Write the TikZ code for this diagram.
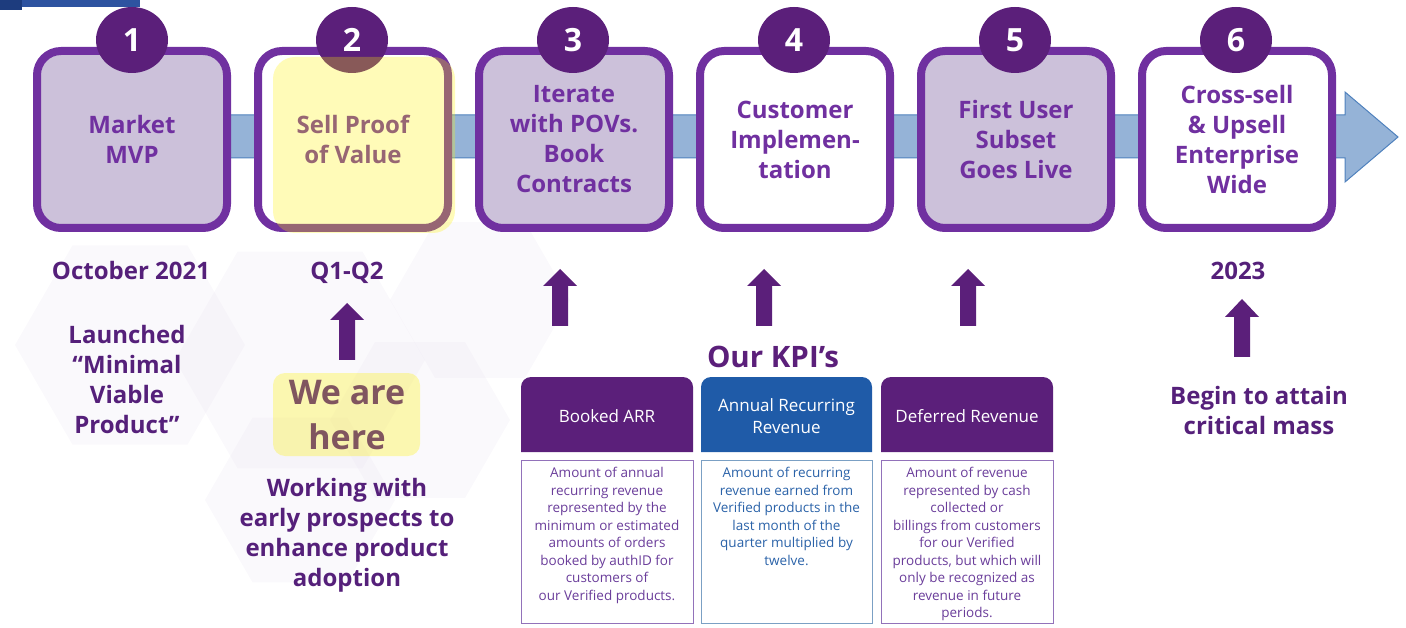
\documentclass[tikz,border=0pt]{standalone}
\usepackage{fontspec}
\setmainfont{Open Sans}
\usetikzlibrary{shapes.geometric}
\definecolor{boxpurple}{HTML}{7030A0}
\definecolor{boxlav}{HTML}{CCC1DA}
\definecolor{darkpurple}{HTML}{5B1F7A}
\definecolor{labelpurple}{HTML}{55207A}
\definecolor{bandfill}{HTML}{95B3D7}
\definecolor{banddraw}{HTML}{4F81BD}
\definecolor{hdrblue}{HTML}{1F5BA8}
\definecolor{descpurple}{HTML}{6A3D9A}
\definecolor{descblue}{HTML}{2A62A8}
\definecolor{bordpurple}{HTML}{9272BA}
\definecolor{bordblue}{HTML}{7BA0C4}
\definecolor{herebrown}{HTML}{80555F}
\definecolor{hexcol}{HTML}{E6E0EF}
\definecolor{topblue}{HTML}{2E53A0}
\definecolor{topblue2}{HTML}{1D3C7E}
\begin{document}
\begin{tikzpicture}[x=1pt,y=-1pt,
  stagebox/.style={rectangle,rounded corners=24pt,line width=8pt,draw=boxpurple,
    minimum width=190pt,minimum height=177pt,align=center,text=boxpurple,
    font=\fontsize{24}{30}\selectfont\bfseries,inner sep=0pt},
  numcirc/.style={ellipse,fill=darkpurple,minimum width=72pt,minimum height=66pt,
    inner sep=0pt,text=white,font=\fontsize{32}{32}\selectfont\bfseries},
  label/.style={text=labelpurple,align=center,font=\fontsize{24}{30}\selectfont\bfseries,inner sep=0pt},
  hdrtext/.style={text=white,align=center,font=\fontsize{17}{22}\selectfont,inner sep=0pt},
  desctext/.style={align=center,font=\fontsize{13.5}{17.5}\selectfont,inner sep=0pt,anchor=north},
  pics/uparrow/.style={code={\fill[darkpurple] (-8,0) -- (-8,-40) -- (-17,-40) -- (0,-#1) -- (17,-40) -- (8,-40) -- (8,0) -- cycle;}}
]
\useasboundingbox (0,0) rectangle (1406,628);
% faint background hexagons
\foreach \cx/\cy/\r in {130/345/115, 300/360/125, 480/300/90, 300/500/95, 420/420/90}{
  \fill[hexcol,opacity=0.2] (\cx+\r,\cy) -- (\cx+\r/2,\cy+0.866*\r) -- (\cx-\r/2,\cy+0.866*\r)
     -- (\cx-\r,\cy) -- (\cx-\r/2,\cy-0.866*\r) -- (\cx+\r/2,\cy-0.866*\r) -- cycle;}
% top-left bar
\fill[topblue] (0,0) rectangle (140,7);
\fill[topblue2] (0,0) rectangle (22,10);
% band arrow
\filldraw[fill=bandfill,draw=banddraw,line width=1pt] (130,115) -- (1345,115) -- (1345,92) -- (1398,137)
  -- (1345,182) -- (1345,158) -- (130,158) -- cycle;
% stage boxes
\node[stagebox,fill=boxlav] (s1) at (132,139.5) {Market\\MVP};
\node[stagebox,fill=white] (s2) at (353,139.5) {Sell Proof\\of Value};
\node[stagebox,fill=boxlav] (s3) at (574,139.5) {Iterate\\with POVs.\\Book\\Contracts};
\node[stagebox,fill=white] (s4) at (795,139.5) {Customer\\Implemen-\\tation};
\node[stagebox,fill=boxlav] (s5) at (1016,139.5) {First User\\Subset\\Goes Live};
\node[stagebox,fill=white] (s6) at (1237,139.5) {Cross-sell\\\& Upsell\\Enterprise\\Wide};
\foreach \i/\x in {1/132,2/352,3/573,4/794,5/1015,6/1236}{
  \node[numcirc] (c\i) at (\x,40) {\i};}
% yellow highlight on stage 2
\fill[yellow,opacity=0.28,rounded corners=22pt] (273,57) rectangle (455,233);
% labels below
\node[label,anchor=base] (oct) at (131,280) {October 2021};
\node[label,anchor=base] (q12) at (347,280) {Q1-Q2};
\node[label,anchor=base] (y23) at (1238,280) {2023};
\node[label] (launch) at (127,379) {Launched\\“Minimal\\Viable\\Product”};
% up arrows
\pic at (347,360) {uparrow=57};
\pic at (560,326) {uparrow=57};
\pic at (764,326) {uparrow=57};
\pic at (968,326) {uparrow=57};
\pic at (1242,357) {uparrow=58};
% we are here
\fill[yellow,opacity=0.3,rounded corners=12pt] (273,373) rectangle (420,456);
\node[align=center,text=herebrown,font=\fontsize{34}{45}\selectfont\bfseries,inner sep=0pt] (here) at (347,415) {We are\\here};
\node[label] (work) at (347,535) {Working with\\early prospects to\\enhance product\\adoption};
\node[label] (begin) at (1259,410) {Begin to attain\\critical mass};
% KPIs
\node[text=darkpurple,font=\fontsize{29.5}{30}\selectfont\bfseries,anchor=base,inner sep=0pt] (kpi) at (773,367) {Our KPI’s};
\fill[darkpurple] (521,452) [rounded corners=10pt] -- (521,377) -- (693,377) [sharp corners] -- (693,452) -- cycle;
\fill[hdrblue] (701,452) [rounded corners=10pt] -- (701,377) -- (872,377) [sharp corners] -- (872,452) -- cycle;
\fill[darkpurple] (881,452) [rounded corners=10pt] -- (881,377) -- (1053,377) [sharp corners] -- (1053,452) -- cycle;
\node[hdrtext] (h1) at (607,416) {Booked ARR};
\node[hdrtext] (h2) at (786.5,416) {Annual Recurring\\Revenue};
\node[hdrtext] (h3) at (967,416) {Deferred Revenue};
\draw[bordpurple,line width=1pt] (521,460) rectangle (693,623);
\draw[bordblue,line width=1pt] (701,460) rectangle (872,623);
\draw[bordpurple,line width=1pt] (881,460) rectangle (1053,623);
\node[desctext,text=descpurple] (d1) at (607,467) {Amount of annual\\recurring revenue\\represented by the\\minimum or estimated\\amounts of orders\\booked by authID for\\customers of\\our Verified products.};
\node[desctext,text=descblue] (d2) at (786.5,467) {Amount of recurring\\revenue earned from\\Verified products in the\\last month of the\\quarter multiplied by\\twelve.};
\node[desctext,text=descpurple] (d3) at (967,467) {Amount of revenue\\represented by cash\\collected or\\billings from customers\\for our Verified\\products, but which will\\only be recognized as\\revenue in future\\periods.};
\end{tikzpicture}
\end{document}
